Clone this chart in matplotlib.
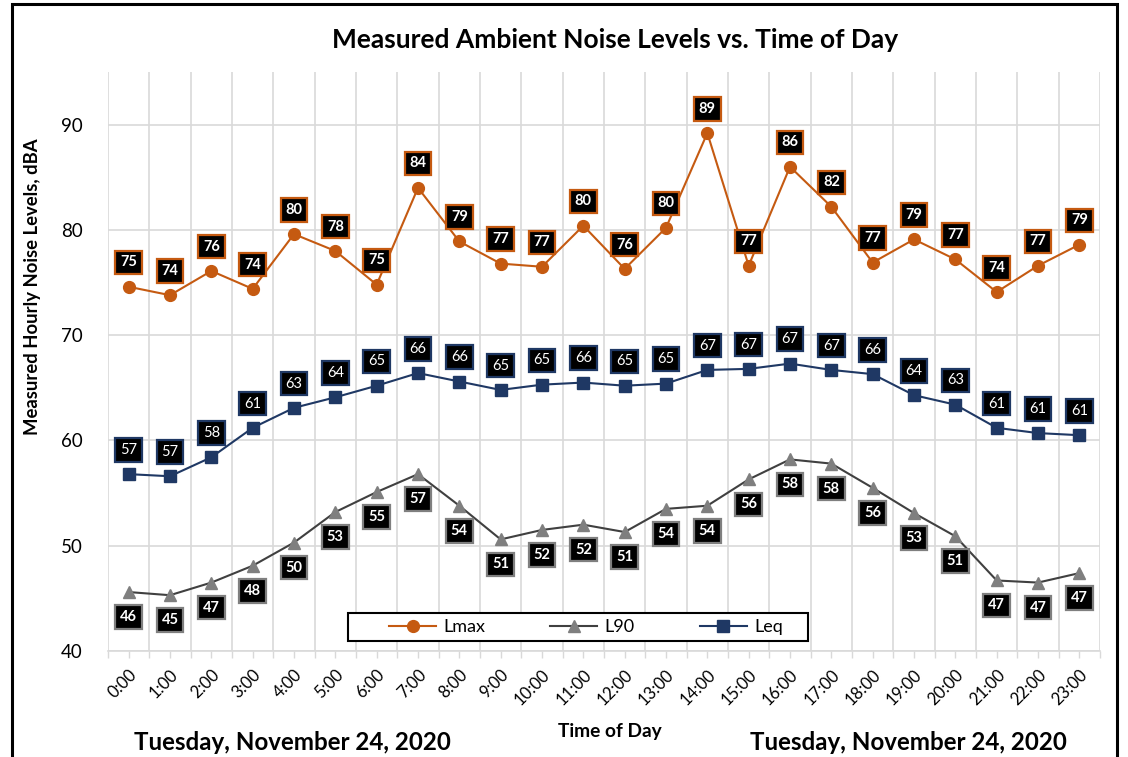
import matplotlib
matplotlib.use("Agg")
import matplotlib.pyplot as plt
from matplotlib.patches import Rectangle
from matplotlib.lines import Line2D

plt.rcParams['font.family'] = ['Lato', 'DejaVu Sans']

hours = ["0:00", "1:00", "2:00", "3:00", "4:00", "5:00", "6:00", "7:00", "8:00", "9:00",
         "10:00", "11:00", "12:00", "13:00", "14:00", "15:00", "16:00", "17:00", "18:00",
         "19:00", "20:00", "21:00", "22:00", "23:00"]
lmax = [74.6, 73.8, 76.1, 74.4, 79.6, 78.0, 74.8, 84.0, 78.9, 76.8, 76.5, 80.4, 76.3, 80.2,
        89.2, 76.6, 86.0, 82.2, 76.9, 79.1, 77.2, 74.1, 76.6, 78.6]
l90 = [45.6, 45.3, 46.5, 48.1, 50.3, 53.2, 55.1, 56.8, 53.8, 50.6, 51.5, 52.0, 51.3, 53.5,
       53.8, 56.3, 58.2, 57.8, 55.5, 53.1, 50.9, 46.7, 46.5, 47.4]
leq = [56.8, 56.6, 58.4, 61.2, 63.1, 64.1, 65.2, 66.4, 65.6, 64.8, 65.3, 65.5, 65.2, 65.4,
       66.7, 66.8, 67.3, 66.7, 66.3, 64.3, 63.4, 61.2, 60.7, 60.5]
yticks = [40, 50, 60, 70, 80, 90]
title = "Measured Ambient Noise Levels vs. Time of Day"
ylabel = "Measured Hourly Noise Levels, dBA"
xlabel = "Time of Day"
date_text = "Tuesday, November 24, 2020"

c_lmax = "#C55A11"
c_l90_m = "#7F7F7F"
c_l90_l = "#404040"
c_leq = "#1F3864"

W, H = 1128, 757
fig = plt.figure(figsize=(W / 100, H / 100), dpi=100)
ax = fig.add_axes([108 / W, 1 - 651 / H, (1100 - 108) / W, (651 - 72) / H])

x = list(range(len(hours)))
ax.plot(x, lmax, color=c_lmax, lw=1.5, marker='o', ms=8.5, mfc=c_lmax, mec=c_lmax, zorder=3)
ax.plot(x, l90, color=c_l90_l, lw=1.5, marker='^', ms=9, mfc=c_l90_m, mec=c_l90_m, zorder=3)
ax.plot(x, leq, color=c_leq, lw=1.5, marker='s', ms=8, mfc=c_leq, mec=c_leq, zorder=3)

def labels(vals, ec, dy, bold):
    for i, v in enumerate(vals):
        ax.annotate(f"{int(v + 0.5)}", (i, v), xytext=(0, dy), textcoords='offset points',
                    ha='center', va='center', color='white', fontsize=10.5,
                    fontweight='bold' if bold else 'normal',
                    bbox=dict(boxstyle='square,pad=0.33', fc='black', ec=ec, lw=1.6), zorder=5)

labels(lmax, c_lmax, 17.5, True)
labels(leq, c_leq, 17.5, False)
labels(l90, c_l90_m, -18, True)

ax.set_xlim(-0.5, len(hours) - 0.5)
ax.set_ylim(40, 95)
ax.set_yticks(yticks)
ax.set_yticklabels([str(t) for t in yticks], fontsize=13.5)
ax.set_xticks(x)
ax.set_xticklabels(hours, rotation=45, ha='right', rotation_mode='anchor', fontsize=12)
ax.set_xticks([i - 0.5 for i in range(len(hours) + 1)], minor=True)
ax.tick_params(axis='x', which='both', length=5, color='#D9D9D9', width=1, pad=6)
ax.tick_params(axis='y', length=0, pad=18)
ax.grid(True, which='minor', axis='x', color='#D9D9D9', lw=1.2)
ax.grid(True, which='major', axis='y', color='#D9D9D9', lw=1.2)
ax.grid(False, which='major', axis='x')
ax.set_axisbelow(True)
for s in ['top', 'right', 'left']:
    ax.spines[s].set_visible(False)
ax.spines['bottom'].set_color('#D9D9D9')
ax.spines['bottom'].set_linewidth(1.2)

fig.text(615 / W, 1 - 40 / H, title, ha='center', va='center', fontsize=19, fontweight='bold')
fig.text(33 / W, 1 - 287 / H, ylabel, ha='center', va='center', rotation=90, fontsize=13.3, fontweight='bold')
fig.text(610 / W, 1 - 732 / H, xlabel, ha='center', va='center', fontsize=13.8, fontweight='bold')
fig.text(292 / W, 1 - 743 / H, date_text, ha='center', va='center', fontsize=17.4, fontweight='bold')
fig.text(908 / W, 1 - 743 / H, date_text, ha='center', va='center', fontsize=17.4, fontweight='bold')

# legend box
fig.patches.append(Rectangle((348 / W, 1 - 641 / H), (808 - 348) / W, (641 - 613) / H,
                             transform=fig.transFigure, fc='white', ec='black', lw=1.5, zorder=4))
handles = [Line2D([], [], color=c_lmax, lw=1.5, marker='o', ms=8.5, mfc=c_lmax, mec=c_lmax),
           Line2D([], [], color=c_l90_l, lw=1.5, marker='^', ms=9, mfc=c_l90_m, mec=c_l90_m),
           Line2D([], [], color=c_leq, lw=1.5, marker='s', ms=8, mfc=c_leq, mec=c_leq)]
leg = fig.legend(handles, ["Lmax", "L90", "Leq"], loc='center', bbox_to_anchor=(586 / W, 1 - 627 / H),
                 ncol=3, frameon=False, fontsize=13,
                 columnspacing=3.6, handlelength=2.6, borderpad=0.2, handletextpad=0.4)
leg.set_zorder(5)

fig.patches.append(Rectangle((12 / W, -0.05), (1117 - 12) / W, 1.05 - 4 / H, transform=fig.transFigure,
                             fill=False, ec='black', lw=2.2))

fig.savefig("out.png", dpi=100)
